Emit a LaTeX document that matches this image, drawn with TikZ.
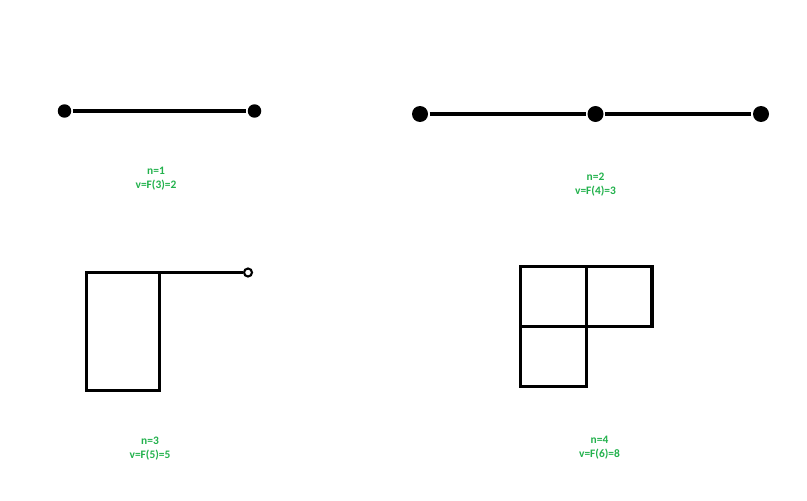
\documentclass[tikz,border=0pt]{standalone}
\usepackage{fontspec}
\newfontfamily\labelfont{Carlito}
\usepackage{xcolor}
\usetikzlibrary{positioning}
\definecolor{paintgreen}{RGB}{34,177,76}

\begin{document}
\begin{tikzpicture}[x = 0.02cm, y = -0.02cm,
		dot_node/.style = {circle, fill = black, inner sep = 0pt, minimum size = 0.27cm},
		big_dot_node/.style = {circle, fill = black, inner sep = 0pt, minimum size = 0.32cm},
		ring_node/.style = {circle, draw, line width = 1.2pt, inner sep = 0pt, minimum size = 0.16cm},
		text_node/.style = {align = center, text = paintgreen, font = \labelfont\bfseries\fontsize{6.5}{7.9}\selectfont},
		line width = 1.9pt, % thick lines as in the sketch
		]
		\useasboundingbox (0,0) rectangle (807,500);
		
		%n=1
		\node[dot_node](a1) at (64.5,111){};
		\node[dot_node](a2) at (254.5,111){};
		\draw (a1) -- (a2);
		\node[text_node](t1) at (156,179){n=1\\v=F(3)=2};
		
		%n=2
		\node[big_dot_node](b1) at (420,114){};
		\node[big_dot_node](b2) at (595.5,114){};
		\node[big_dot_node](b3) at (761,114){};
		\draw (b1) -- (b2) -- (b3);
		\node[text_node](t2) at (595.5,184.5){n=2\\v=F(4)=3};
		
		%n=3
		\draw (86.5,272.5) rectangle (159.5,390.5);
		\coordinate (c1) at (159.5,272.5);
		\node[ring_node](c2) at (248,272.5){};
		\draw (c1) -- (c2);
		\node[text_node](t3) at (150,448.5){n=3\\v=F(5)=5};
		
		%n=4
		\draw (520.5,266.5) rectangle (586.5,326.5);
		\draw (586.5,266.5) rectangle (652,326.5);
		\draw (520.5,326.5) rectangle (586.5,386.5);
		\node[text_node](t4) at (599.5,448){n=4\\v=F(6)=8};

\end{tikzpicture}
\end{document}
